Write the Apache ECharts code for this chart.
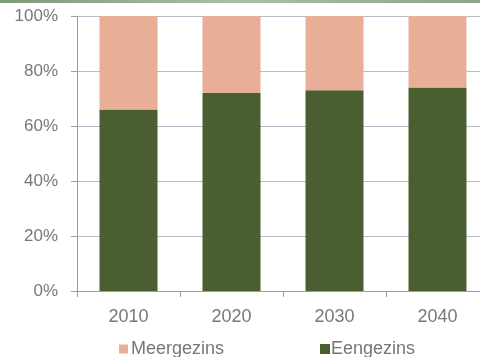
<!DOCTYPE html>
<html><head><meta charset="utf-8">
<script src="https://cdn.jsdelivr.net/npm/echarts@6/dist/echarts.min.js"></script>
<style>html,body{margin:0;padding:0;background:#fff}#c{width:480px;height:357px}</style>
</head><body><div id="c"></div>
<script>
const categories = ['2010', '2020', '2030', '2040'];
const eengezins = [66, 72, 73, 74];
const meergezins = [34, 28, 27, 26];
const yTicks = [0, 20, 40, 60, 80, 100];

const chart = echarts.init(document.getElementById('c'), null, {renderer: 'canvas'});
const font = 'Liberation Sans, Arial, sans-serif';
chart.setOption({
  animation: false,
  backgroundColor: '#fff',
  graphic: [{type: 'rect', left: 0, top: 0, shape: {width: 480, height: 3},
    style: {fill: new echarts.graphic.LinearGradient(0, 0, 1, 0, [{offset: 0, color: '#7d9a78'}, {offset: 0.5, color: '#a9c0a6'}, {offset: 1, color: '#8aa58a'}])}}],
  grid: {left: 77, top: 16, width: 412, height: 275, containLabel: false, outerBoundsMode: 'none'},
  legend: [
    {data: ['Meergezins'], left: 119, top: 340, padding: 0, itemWidth: 9, itemHeight: 9, icon: 'rect',
     textStyle: {color: '#777', fontSize: 18, fontFamily: font, padding: [0, 0, 0, -2]}},
    {data: ['Eengezins'], left: 320, top: 340, padding: 0, itemWidth: 10, itemHeight: 10, icon: 'rect',
     textStyle: {color: '#777', fontSize: 18, fontFamily: font, padding: [0, 0, 0, -4]}}
  ],
  xAxis: {
    type: 'category', data: categories,
    axisLine: {lineStyle: {color: '#9a9aaa'}},
    axisTick: {show: true, length: 6, lineStyle: {color: '#9a9aaa'}},
    axisLabel: {color: '#777', fontSize: 18, fontFamily: font, margin: 17}
  },
  yAxis: {
    type: 'value', min: 0, max: 100, interval: 20,
    axisLine: {show: true, lineStyle: {color: '#9a9aaa'}},
    axisTick: {show: true, length: 6, lineStyle: {color: '#9a9aaa'}},
    splitLine: {lineStyle: {color: '#b8b8c8'}},
    axisLabel: {color: '#777', fontSize: 17, fontFamily: font, margin: 19,
      formatter: v => yTicks.includes(v) ? v + '%' : ''}
  },
  series: [
    {name: 'Eengezins', type: 'bar', stack: 't', data: eengezins, barWidth: 58,
     itemStyle: {color: '#4b5e2f'}},
    {name: 'Meergezins', type: 'bar', stack: 't', data: meergezins, barWidth: 58,
     itemStyle: {color: '#e8ae98'}}
  ]
});
</script></body></html>
